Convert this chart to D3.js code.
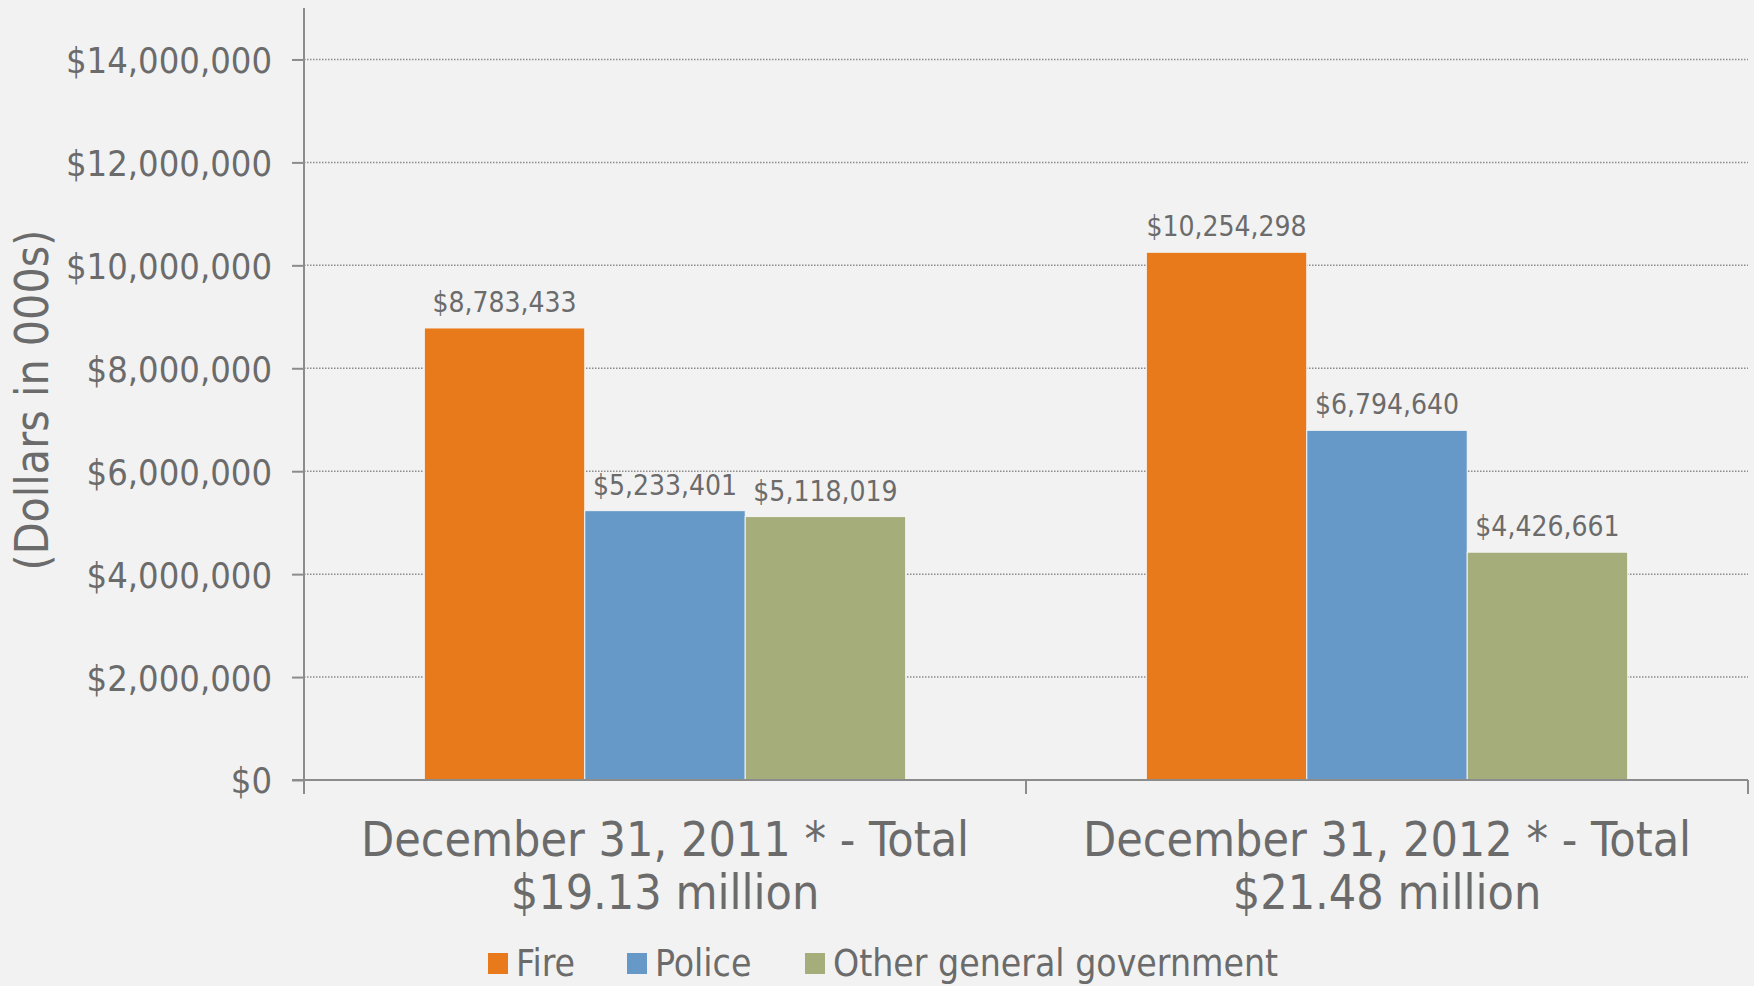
<!DOCTYPE html>
<html>
<head>
<meta charset="utf-8">
<script src="https://cdn.jsdelivr.net/npm/d3@7"></script>
<style>
  html, body { margin: 0; padding: 0; background: #f2f2f2; }
  svg { display: block; }
  text { font-family: "Liberation Sans Narrow", "DejaVu Sans Condensed", "Open Sans", sans-serif; fill: #6b6b6b; }
</style>
</head>
<body>
<svg width="1754" height="986"></svg>
<script>
// data
const categories = ["December 31, 2011 * - Total|$19.13 million", "December 31, 2012 * - Total|$21.48 million"];
const seriesNames = ["Fire", "Police", "Other general government"];
const fire = [8783433, 10254298];
const police = [5233401, 6794640];
const otherGov = [5118019, 4426661];
const yTicks = [0, 2000000, 4000000, 6000000, 8000000, 10000000, 12000000, 14000000];
const colors = ["#e87a1c", "#6699c8", "#a5ad7a"];

const svg = d3.select('svg');
const plotLeft = 304, plotRight = 1748, plotTop = 8, plotBottom = 780;

const rows = categories.map((c, i) => ({
    cat: c,
    vals: [fire[i], police[i], otherGov[i]]
}));

const xScale = d3.scaleBand().domain(categories).range([plotLeft, plotRight]).paddingInner(0).paddingOuter(0);
// excel gap width 150% -> 3 bars + 1.5 bars of gap
const inner = d3.scaleBand().domain(seriesNames)
    .range([xScale.bandwidth() * 0.75 / 4.5, xScale.bandwidth() - xScale.bandwidth() * 0.75 / 4.5]);
const yScale = d3.scaleLinear().domain([0, 15000000]).range([plotBottom, plotTop]);

const fmt = d3.format("$,");

// grid
svg.append('g')
    .selectAll('line')
    .data(yTicks.filter(d => d > 0))
    .enter()
    .append('line')
    .attr('x1', plotLeft).attr('x2', plotRight)
    .attr('y1', d => yScale(d)).attr('y2', d => yScale(d))
    .attr('stroke', '#8c8c8c')
    .attr('stroke-width', 1.5)
    .attr('stroke-dasharray', '1.5,1.5');

// bars
const groups = svg.append('g')
    .selectAll('g')
    .data(rows)
    .enter()
    .append('g')
    .attr('transform', d => `translate(${xScale(d.cat)},0)`);

groups.selectAll('rect')
    .data(d => d.vals.map((v, i) => ({ name: seriesNames[i], v: v, i: i })))
    .enter()
    .append('rect')
    .attr('x', d => inner(d.name))
    .attr('width', inner.bandwidth())
    .attr('y', d => yScale(d.v))
    .attr('height', d => plotBottom - yScale(d.v))
    .attr('fill', d => colors[d.i])
    .attr('stroke', '#f5f5f5')
    .attr('stroke-width', 1);

groups.selectAll('text')
    .data(d => d.vals.map((v, i) => ({ name: seriesNames[i], v: v })))
    .enter()
    .append('text')
    .attr('x', d => inner(d.name) + inner.bandwidth() / 2)
    .attr('y', d => yScale(d.v) - 16)
    .attr('text-anchor', 'middle')
    .style('font-size', '28px')
    .text(d => fmt(d.v));

// y axis
const yAxis = svg.append('g')
    .attr('transform', `translate(${plotLeft},0)`)
    .call(d3.axisLeft(yScale).tickValues(yTicks).tickFormat(fmt).tickSize(12).tickPadding(20));
yAxis.select('.domain').attr('d', `M0,${plotTop}V${plotBottom}`).attr('stroke', '#8c8c8c').attr('stroke-width', 2);
yAxis.selectAll('.tick line').attr('stroke', '#8c8c8c').attr('stroke-width', 2);
yAxis.selectAll('.tick text').style('font-size', '36px').attr('dy', '0.36em').attr('fill', '#6b6b6b');

// x axis
const xAxis = svg.append('g')
    .attr('transform', `translate(0,${plotBottom})`);
xAxis.append('line')
    .attr('x1', plotLeft - 12).attr('x2', plotRight)
    .attr('stroke', '#8c8c8c').attr('stroke-width', 2);
xAxis.selectAll('.sep')
    .data([plotLeft, ...categories.map(c => xScale(c) + xScale.bandwidth())])
    .enter()
    .append('line')
    .attr('x1', d => d).attr('x2', d => d)
    .attr('y1', 0).attr('y2', 14)
    .attr('stroke', '#8c8c8c').attr('stroke-width', 2);

const catLabels = xAxis.selectAll('.cat')
    .data(categories)
    .enter()
    .append('text')
    .attr('text-anchor', 'middle')
    .style('font-size', '48px');
catLabels.selectAll('tspan')
    .data(d => d.split('|').map(t => ({ t: t, c: d })))
    .enter()
    .append('tspan')
    .attr('x', d => xScale(d.c) + xScale.bandwidth() / 2)
    .attr('y', (d, i) => 76 + i * 53)
    .text(d => d.t);

// y axis title
svg.append('text')
    .attr('transform', `translate(48,${(plotTop + plotBottom) / 2 + 6}) rotate(-90)`)
    .attr('text-anchor', 'middle')
    .style('font-size', '46px')
    .text('(Dollars in 000s)');

// legend
const legendX = [488, 627, 805];
const legend = svg.append('g')
    .selectAll('g')
    .data(seriesNames)
    .enter()
    .append('g')
    .attr('transform', (d, i) => `translate(${legendX[i]},953)`);
legend.append('rect')
    .attr('width', 20).attr('height', 21)
    .attr('fill', (d, i) => colors[i]);
legend.append('text')
    .attr('x', 28).attr('y', 23)
    .style('font-size', '37px')
    .text(d => d);
</script>
</body>
</html>
